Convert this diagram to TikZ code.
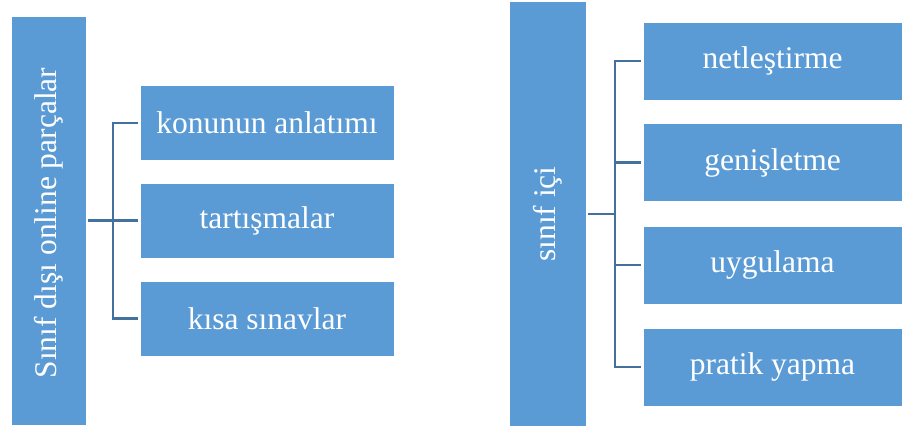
\documentclass[tikz,border=0pt]{standalone}
\usepackage{fontspec}
\setmainfont{Liberation Serif}
\definecolor{boxblue}{HTML}{5B9BD5}
\definecolor{linkblue}{HTML}{41719C}
\begin{document}
\begin{tikzpicture}[x=1pt,y=-1pt,
  bluebox/.style={rectangle, fill=boxblue, draw=white, line width=0.8pt, inner sep=0pt,
     text=white, font=\fontsize{31.5}{38}\selectfont, outer sep=2pt},
  link/.style={draw=linkblue, line width=2.6pt}]
\useasboundingbox (0,0) rectangle (903,428);
% left group
\node[bluebox, minimum width=75pt, minimum height=409pt] (L) at (48.5,220.5) {};
\node[text=white, font=\fontsize{31.5}{38}\selectfont, rotate=90] (Lt) at (49,223) {Sınıf dışı online parçalar};
\node[bluebox, minimum width=254pt, minimum height=75pt] (a1) at (267,123) {konunun anlatımı};
\node[bluebox, minimum width=254pt, minimum height=75pt] (a2) at (267,220.5) {tartışmalar};
\node[bluebox, minimum width=254pt, minimum height=75pt] (a3) at (267,318.5) {kısa sınavlar};
\coordinate (jL) at (113,220.5);
\draw[link] (L.east |- a2) -- (a2.west);
\draw[link] (a1.west) -- (a1.west -| jL) -- (a3.west -| jL) -- (a3.west);
% right group
\node[bluebox, minimum width=77pt, minimum height=425pt] (R) at (547.5,213.5) {};
\node[text=white, font=\fontsize{31.5}{38}\selectfont, rotate=90] (Rt) at (548,214) {sınıf içi};
\node[bluebox, minimum width=259pt, minimum height=78pt] (b1) at (772.5,61) {netleştirme};
\node[bluebox, minimum width=259pt, minimum height=78pt] (b2) at (772.5,162.5) {genişletme};
\node[bluebox, minimum width=259pt, minimum height=78pt] (b3) at (772.5,265) {uygulama};
\node[bluebox, minimum width=259pt, minimum height=78pt] (b4) at (772.5,367) {pratik yapma};
\coordinate (jR) at (615,214);
\draw[link] (R.east |- jR) -- (jR);
\draw[link] (b1.west) -- (b1.west -| jR) -- (b4.west -| jR) -- (b4.west);
\draw[link] (b2.west) -- (b2.west -| jR);
\draw[link] (b3.west) -- (b3.west -| jR);
\end{tikzpicture}
\end{document}
